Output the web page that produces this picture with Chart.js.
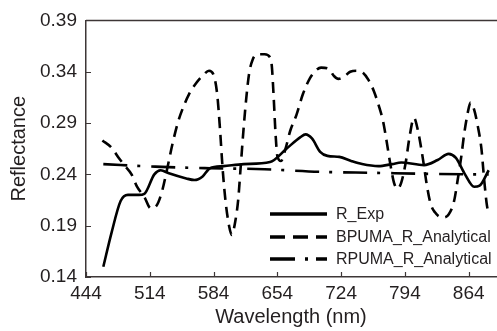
<!DOCTYPE html>
<html>
<head>
<meta charset="utf-8">
<script src="https://cdn.jsdelivr.net/npm/chart.js@4/dist/chart.umd.min.js"></script>
<style>
html,body{margin:0;padding:0;background:#fff;}
#wrap{width:497px;height:331px;}
</style>
</head>
<body>
<div id="wrap"><canvas id="c" width="497" height="331"></canvas></div>
<script>
// ---- data ----
const expWavelength = [463,472,482,490,502,508,519,526,535,554,563,572,580,595,617,646,664,679,685,692,701,709,722,735,747,765,780,790,815,830,842,850,860,870,876,886];
const expReflectance = [0.150,0.183,0.214,0.220,0.220,0.221,0.240,0.244,0.241,0.236,0.2345,0.238,0.246,0.248,0.250,0.252,0.265,0.276,0.279,0.275,0.262,0.258,0.257,0.253,0.250,0.248,0.250,0.2515,0.249,0.254,0.260,0.256,0.240,0.228,0.229,0.244];

const bpumaWavelength = [462,472,480,486,494,500,508,515,521,527,533,539,545,551,557,565,573,579,584,588,591,594,597,601,604,608,611,614,617,620,623,627,633,640,646,648,650,652,654,658,663,668,675,682,690,696,702,710,716,721,727,734,741,748,754,760,766,770,774,778,782,786,790,795,799,804,808,812,815,818,822,827,835,842,848,852,856,859,863,866,870,874,878,881,884,886];
const bpumaReflectance = [0.273,0.266,0.256,0.249,0.240,0.228,0.218,0.207,0.209,0.222,0.245,0.270,0.291,0.306,0.318,0.329,0.337,0.341,0.337,0.318,0.285,0.245,0.215,0.190,0.181,0.195,0.215,0.250,0.285,0.315,0.338,0.352,0.357,0.357,0.354,0.345,0.315,0.280,0.258,0.253,0.265,0.282,0.298,0.318,0.334,0.341,0.344,0.343,0.336,0.333,0.335,0.340,0.341,0.339,0.332,0.321,0.305,0.292,0.272,0.250,0.232,0.226,0.232,0.252,0.276,0.295,0.284,0.265,0.248,0.230,0.212,0.203,0.198,0.201,0.214,0.235,0.258,0.279,0.300,0.310,0.303,0.287,0.265,0.235,0.210,0.202];

const rpumaWavelength = [463,520,580,640,700,760,820,886];
const rpumaReflectance = [0.2500,0.2475,0.2460,0.2450,0.2425,0.2415,0.2405,0.2398];

const seriesLabels = ['R_Exp','BPUMA_R_Analytical','RPUMA_R_Analytical'];
const xTicks = [444,514,584,654,724,794,864];
const yTicks = [0.14,0.19,0.24,0.29,0.34,0.39];
const xTitle = 'Wavelength (nm)';
const yTitle = 'Reflectance';

// ---- styling ----
const FONT = "'Liberation Sans', Arial, sans-serif";
const AXIS = '#3d3636';
const TEXT = '#231f20';
const pts = (xs, ys) => xs.map((x, i) => ({x, y: ys[i]}));

const legendDash = [[], [15, 8], [25, 10, 3, 8]];

const frameAndTicks = {
  id: 'frameAndTicks',
  afterDraw(chart) {
    const {ctx, chartArea: a, scales: {x, y}} = chart;
    ctx.save();
    ctx.strokeStyle = AXIS;
    ctx.lineWidth = 1.5;
    ctx.beginPath();
    ctx.moveTo(a.left, a.top);
    ctx.lineTo(a.right + 1, a.top);
    ctx.stroke();
    ctx.lineWidth = 1.2;
    ctx.beginPath();
    x.ticks.forEach(t => {
      const px = Math.round(x.getPixelForValue(t.value)) + 0.5;
      ctx.moveTo(px, a.bottom);
      ctx.lineTo(px, a.bottom - 5);
    });
    y.ticks.forEach(t => {
      const py = Math.round(y.getPixelForValue(t.value)) + 0.5;
      ctx.moveTo(a.left, py);
      ctx.lineTo(a.left + 5, py);
    });
    ctx.stroke();
    // legend
    const x0 = 270, x1 = 327, tx = 336, rows = [214, 237, 259];
    ctx.font = '16px ' + FONT;
    ctx.textBaseline = 'middle';
    ctx.textAlign = 'left';
    chart.data.datasets.forEach((ds, i) => {
      ctx.strokeStyle = ds.borderColor;
      ctx.lineWidth = 3.5;
      ctx.setLineDash(legendDash[i]);
      ctx.beginPath();
      ctx.moveTo(x0, rows[i]);
      ctx.lineTo(x1, rows[i]);
      ctx.stroke();
      ctx.setLineDash([]);
      ctx.fillStyle = TEXT;
      ctx.fillText(ds.label, tx, rows[i] + 1);
    });
    ctx.restore();
  }
};

new Chart(document.getElementById('c'), {
  type: 'line',
  data: {
    datasets: [
      {label: seriesLabels[0], data: pts(expWavelength, expReflectance), borderColor: '#000', borderWidth: 2.6, borderDash: []},
      {label: seriesLabels[1], data: pts(bpumaWavelength, bpumaReflectance), borderColor: '#000', borderWidth: 2.6, borderDash: [11, 7]},
      {label: seriesLabels[2], data: pts(rpumaWavelength, rpumaReflectance), borderColor: '#000', borderWidth: 2.6, borderDash: [24, 10, 3, 11]}
    ]
  },
  options: {
    responsive: false,
    animation: false,
    devicePixelRatio: 1,
    layout: {padding: {top: 19, right: 1, left: 0, bottom: 0}},
    elements: {point: {radius: 0}, line: {cubicInterpolationMode: 'monotone', borderCapStyle: 'butt'}},
    plugins: {legend: {display: false}, tooltip: {enabled: false}},
    scales: {
      x: {
        type: 'linear', min: 444, max: 894,
        afterBuildTicks: s => { s.ticks = xTicks.map(v => ({value: v})); },
        afterFit: s => { s.height = 54; },
        grid: {display: false, drawTicks: false},
        border: {display: true, color: AXIS, width: 1.5},
        ticks: {autoSkip: false, maxRotation: 0, padding: 5, color: TEXT, font: {family: FONT, size: 19}, callback: v => String(v)},
        title: {display: true, text: xTitle, color: TEXT, font: {family: FONT, size: 20}, padding: {top: 0, bottom: 2}}
      },
      y: {
        type: 'linear', min: 0.14, max: 0.39,
        afterBuildTicks: s => { s.ticks = yTicks.map(v => ({value: v})); },
        afterFit: s => { s.width = 86; },
        grid: {display: false, drawTicks: false},
        border: {display: true, color: AXIS, width: 1.5},
        ticks: {autoSkip: false, padding: 9, color: TEXT, font: {family: FONT, size: 19}, callback: v => Number(v).toFixed(2)},
        title: {display: true, text: yTitle, color: TEXT, font: {family: FONT, size: 20}, padding: {top: 7, bottom: 0}}
      }
    }
  },
  plugins: [frameAndTicks]
});
</script>
</body>
</html>
